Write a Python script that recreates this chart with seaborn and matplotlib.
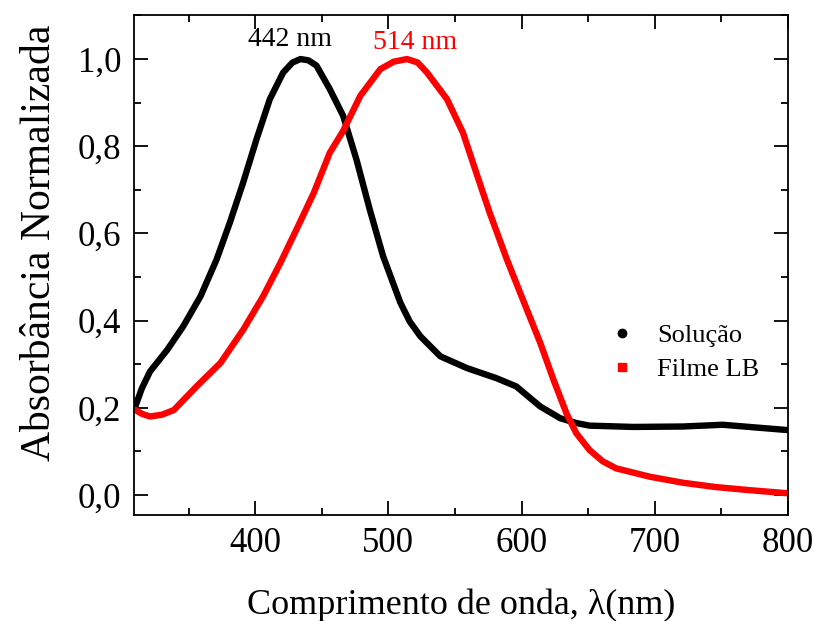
import matplotlib
matplotlib.use("Agg")
import matplotlib.pyplot as plt
import seaborn as sns
import pandas as pd
from matplotlib.lines import Line2D
from matplotlib.ticker import MultipleLocator, FuncFormatter

# Data
sol_x = [310, 315, 321, 334, 346, 359, 371, 381, 391, 401, 411, 421, 428, 434, 440, 446,
         456, 466, 476, 486, 496, 509, 516, 524, 539, 559, 581, 596, 614, 629, 641, 651,
         684, 721, 751, 771, 799]
sol_y = [0.203, 0.245, 0.283, 0.333, 0.387, 0.456, 0.540, 0.625, 0.717, 0.816, 0.908,
         0.969, 0.992, 1.000, 0.997, 0.985, 0.931, 0.870, 0.770, 0.655, 0.548, 0.441,
         0.398, 0.364, 0.318, 0.291, 0.268, 0.249, 0.203, 0.176, 0.165, 0.159, 0.156,
         0.157, 0.161, 0.156, 0.149]

film_x = [310, 315, 321, 330, 339, 356, 374, 391, 406, 419, 431, 444, 456, 466, 479, 494,
          504, 514, 522, 529, 544, 556, 566, 576, 589, 601, 614, 624, 634, 641, 651, 661,
          671, 696, 721, 746, 771, 799]
film_y = [0.195, 0.186, 0.180, 0.184, 0.195, 0.249, 0.303, 0.379, 0.456, 0.533, 0.609,
          0.693, 0.785, 0.835, 0.916, 0.977, 0.994, 1.000, 0.992, 0.969, 0.908, 0.831,
          0.739, 0.648, 0.540, 0.448, 0.349, 0.264, 0.185, 0.142, 0.103, 0.077, 0.061,
          0.042, 0.028, 0.018, 0.011, 0.004]

series_names = ["Solução", "Filme LB"]
peak_labels = ["442 nm", "514 nm"]

df = pd.concat([
    pd.DataFrame({"x": sol_x, "y": sol_y, "s": series_names[0]}),
    pd.DataFrame({"x": film_x, "y": film_y, "s": series_names[1]}),
])

sns.set_style("ticks")
plt.rcParams["font.family"] = ["Liberation Serif", "DejaVu Serif"]
plt.rcParams["text.color"] = "black"
plt.rcParams["axes.labelcolor"] = "black"
plt.rcParams["xtick.color"] = "black"
plt.rcParams["ytick.color"] = "black"
plt.rcParams["lines.solid_joinstyle"] = "round"
plt.rcParams["lines.solid_capstyle"] = "round"

fig = plt.figure(figsize=(8.14, 6.21), dpi=100)
ax = fig.add_axes([0.1646, 0.1707, 0.8034, 0.8051])

palette = {series_names[0]: "black", series_names[1]: "#ff0000"}
sns.lineplot(data=df, x="x", y="y", hue="s", palette=palette, linewidth=4.6,
             ax=ax, legend=False, sort=False)

ax.set_xlim(309, 800)
ax.set_ylim(-0.046, 1.101)
ax.xaxis.set_major_locator(MultipleLocator(100))
ax.xaxis.set_minor_locator(MultipleLocator(50))
ax.yaxis.set_major_locator(MultipleLocator(0.2))
ax.yaxis.set_minor_locator(MultipleLocator(0.1))
ax.yaxis.set_major_formatter(FuncFormatter(lambda v, p: f"{v:.1f}".replace(".", ",").replace("-0,0", "0,0")))

ax.tick_params(which="both", direction="in", top=True, right=True, labelsize=25,
               width=1.3, color="black")
ax.tick_params(which="major", length=10, pad=9)
ax.tick_params(which="minor", length=5)
for sp in ax.spines.values():
    sp.set_linewidth(1.3)
    sp.set_color("black")

ax.set_xlabel("Comprimento de onda, λ(nm)", fontsize=26, va="center")
ax.set_ylabel("Absorbância Normalizada", fontsize=30, va="center")
ax.xaxis.set_label_coords(0.5, (515 - 605) / 500)
ax.yaxis.set_label_coords((40 - 134) / 654, (515 - 243) / 500)

ax.text(426, 1.046, peak_labels[0], color="black", fontsize=20, ha="center", va="center")
ax.text(520, 1.039, peak_labels[1], color="#ff0000", fontsize=20, ha="center", va="center")

handles = [
    Line2D([], [], color="black", marker="o", linestyle="none", markersize=6),
    Line2D([], [], color="#ff0000", marker="s", linestyle="none", markersize=6),
]
ax.legend(handles, series_names, loc="center left", bbox_to_anchor=(0.685, 0.325),
          frameon=False, fontsize=19, handletextpad=0.75, labelspacing=0.4,
          handlelength=1.2)

fig.savefig("out.png", dpi=100)
